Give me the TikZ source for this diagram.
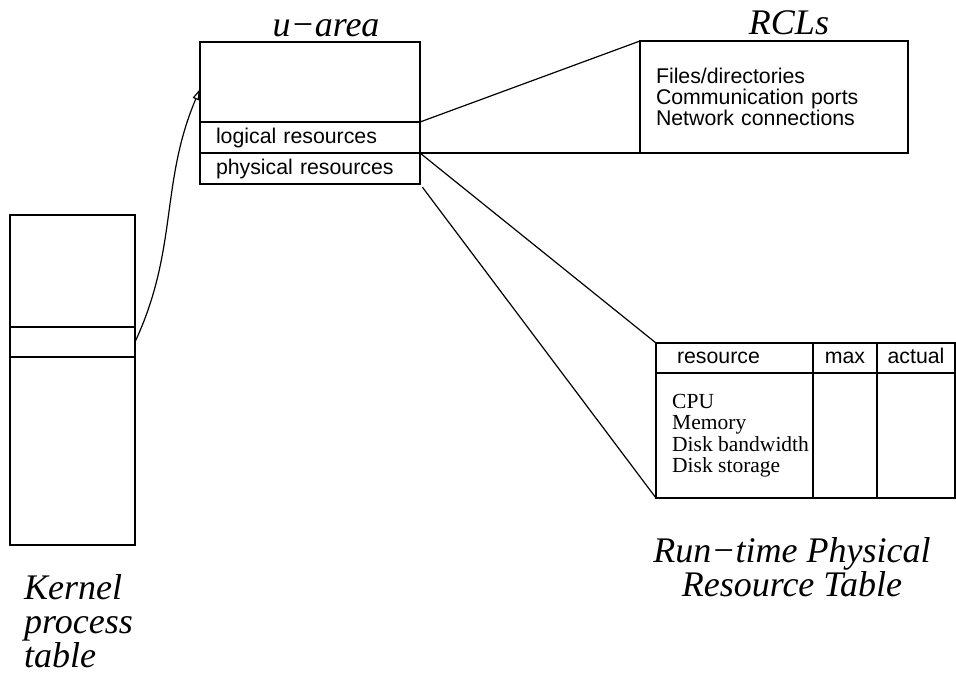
\documentclass[tikz,border=0pt]{standalone}
\usepackage{fontspec}
\setmainfont{Liberation Sans}
\newfontfamily\tmsfont{Liberation Serif}
\usetikzlibrary{positioning,arrows.meta}

\begin{document}
\begin{tikzpicture}[x=1pt,y=-1pt,font=\fontsize{21.3}{21}\selectfont,
 cell/.style={draw,line width=1.2pt,outer sep=0pt,inner sep=0pt,anchor=north west},
 hd/.style={text height=15pt,text depth=4.5pt},
 lbl/.style={font=\tmsfont\itshape\fontsize{36}{34}\selectfont,inner sep=0pt},
 ln/.style={line width=1.2pt},
 ar/.style={-{Triangle[open,length=11pt,width=6.5pt]},line width=1.2pt}]
\useasboundingbox (0,0) rectangle (956,681);
% u-area
\node[cell,minimum width=220pt,minimum height=80pt] (ubox) at (200,42) {};
\node[cell,minimum width=220pt,minimum height=31pt,inner xsep=16pt,text width=188pt,align=left,below=0pt of ubox] (logic) {logical resources};
\node[cell,minimum width=220pt,minimum height=31pt,inner xsep=16pt,text width=188pt,align=left,below=0pt of logic] (phys) {physical resources};
\node[lbl,anchor=base] (ulbl) at (326,36) {u−area};
% RCLs
\node[cell,minimum width=268pt,minimum height=112pt,inner xsep=16pt,text width=236pt,align=left] (rcl) at (640,41)
 {Files/directories\\Communication ports\\Network connections};
\node[lbl,anchor=base] (rcllbl) at (789,34) {RCLs};
% kernel process table
\node[cell,minimum width=125pt,minimum height=112pt] (ktop) at (10,215) {};
\node[cell,minimum width=125pt,minimum height=30pt,below=0pt of ktop] (kmid) {};
\node[cell,minimum width=125pt,minimum height=188pt,below=0pt of kmid] (kbot) {};
\node[lbl,align=left,anchor=north west] (klbl) at (24,574) {Kernel\\process\\table};
% run-time physical resource table
\node[cell,hd,minimum width=157pt,minimum height=30pt,inner xsep=21pt,text width=115pt,align=left] (hres) at (656,343) {resource};
\node[cell,hd,minimum width=64pt,minimum height=30pt,right=0pt of hres] (hmax) {max};
\node[cell,hd,minimum width=78pt,minimum height=30pt,right=0pt of hmax] (hact) {actual};
\node[cell,minimum width=157pt,minimum height=125pt,below=0pt of hres] (bres) {};
\node[cell,minimum width=64pt,minimum height=125pt,below=0pt of hmax] (bmax) {};
\node[cell,minimum width=78pt,minimum height=125pt,below=0pt of hact] (bact) {};
\node[anchor=north west,inner sep=0pt,align=left,font=\tmsfont\fontsize{21.5}{21.3}\selectfont] (reslist)
 at ([shift={(16,21)}]bres.north west) {CPU\\Memory\\Disk bandwidth\\Disk storage};
\node[lbl,align=center,anchor=north] (rtlbl) at (792,537) {Run−time Physical\\Resource Table};
% connectors
\draw[ar] (kmid.east) to[out=65,in=-113] ([yshift=-7pt]ubox.west);
\draw[ln] (logic.north east) -- (rcl.north west);
\draw[ln] (logic.south east) -- (rcl.south west);
\draw[ln] (phys.north east) -- (hres.north west);
\draw[ln,shorten <=4pt] (phys.south east) -- (bres.south west);
\end{tikzpicture}
\end{document}
